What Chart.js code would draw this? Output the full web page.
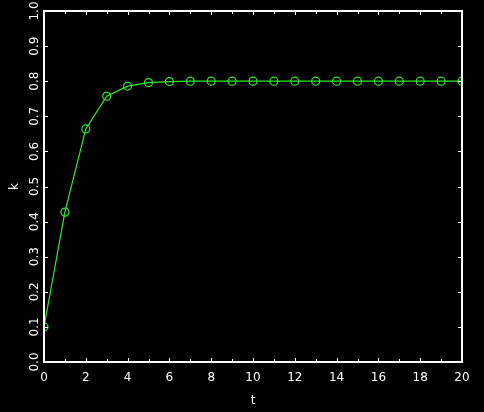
<!DOCTYPE html>
<html>
<head>
<meta charset="utf-8">
<style>
  html, body { margin: 0; padding: 0; background: #000; }
  #wrap { width: 484px; height: 412px; }
</style>
<script src="https://cdn.jsdelivr.net/npm/chart.js@4/dist/chart.umd.min.js"></script>
</head>
<body>
<div id="wrap"><canvas id="chart" width="484" height="412"></canvas></div>
<script>
'use strict';

// values
const tValues = [0, 1, 2, 3, 4, 5, 6, 7, 8, 9, 10, 11, 12, 13, 14, 15, 16, 17, 18, 19, 20];
const kValues = [0.100, 0.427, 0.664, 0.757, 0.786, 0.796, 0.799, 0.800, 0.800, 0.800, 0.800,
  0.800, 0.800, 0.800, 0.800, 0.800, 0.800, 0.800, 0.800, 0.800, 0.800];
const xLabelEvery = 2;
const yTickStep = 0.1;

const fg = '#ffffff';
const green = 'rgb(45,235,45)';
const tickFont = { family: 'DejaVu Sans', size: 12 };

// black page and white frame with inward ticks
const framePlugin = {
  id: 'frame',
  beforeDraw(chart) {
    const ctx = chart.ctx;
    ctx.save();
    ctx.fillStyle = '#000';
    ctx.fillRect(0, 0, chart.width, chart.height);
    ctx.restore();
  },
  afterDraw(chart) {
    const { ctx, chartArea: a } = chart;
    const xs = chart.scales.x;
    const ys = chart.scales.y;
    ctx.save();
    ctx.strokeStyle = fg;
    ctx.lineWidth = 2;
    ctx.strokeRect(a.left, a.top, a.right - a.left, a.bottom - a.top);
    ctx.lineWidth = 1;
    ctx.beginPath();
    xs.ticks.forEach(t => {
      const x = Math.round(xs.getPixelForValue(t.value)) + 0.5;
      const len = t.value % xLabelEvery === 0 ? 4 : 3;
      ctx.moveTo(x, a.bottom);
      ctx.lineTo(x, a.bottom - len);
      ctx.moveTo(x, a.top);
      ctx.lineTo(x, a.top + len);
    });
    ys.ticks.forEach(t => {
      const y = Math.round(ys.getPixelForValue(t.value)) + 0.5;
      ctx.moveTo(a.left, y);
      ctx.lineTo(a.left + 4, y);
      ctx.moveTo(a.right, y);
      ctx.lineTo(a.right - 4, y);
    });
    ctx.stroke();
    ctx.restore();
  }
};

function renderChart() {
  const ctx = document.getElementById('chart').getContext('2d');

  const chartData = {
    datasets: [{
      label: 'k',
      data: tValues.map((t, i) => ({ x: t, y: kValues[i] })),
      borderColor: green,
      backgroundColor: 'rgba(0,0,0,0)',
      borderWidth: 1.2,
      pointRadius: 4,
      pointBorderWidth: 1.2,
      pointBorderColor: green,
      pointBackgroundColor: 'rgba(0,0,0,0)',
      tension: 0
    }]
  };

  const chartOptions = {
    responsive: false,
    animation: false,
    layout: { padding: { top: 11, right: 22, left: 0, bottom: 0 } },
    plugins: {
      legend: { display: false },
      tooltip: { enabled: false }
    },
    scales: {
      x: {
        type: 'linear',
        min: 0,
        max: 20,
        grid: { display: false, drawTicks: false },
        border: { display: false },
        afterFit(scale) { scale.height = 50; },
        ticks: {
          stepSize: 1,
          color: fg,
          font: tickFont,
          padding: 9,
          maxRotation: 0,
          autoSkip: false,
          callback: v => (v % xLabelEvery === 0 ? String(v) : '')
        },
        title: {
          display: true,
          text: 't',
          color: fg,
          font: tickFont,
          padding: { top: 0, bottom: 4 }
        }
      },
      y: {
        min: 0,
        max: 1,
        grid: { display: false, drawTicks: false },
        border: { display: false },
        afterFit(scale) { scale.width = 44; },
        ticks: {
          stepSize: yTickStep,
          color: fg,
          font: tickFont,
          minRotation: 90,
          maxRotation: 90,
          crossAlign: 'center',
          padding: 0,
          autoSkip: false,
          callback: v => v.toFixed(1)
        },
        title: {
          display: true,
          text: 'k',
          color: fg,
          font: tickFont,
          padding: { top: 8, bottom: 0 }
        }
      }
    }
  };

  new Chart(ctx, {
    type: 'line',
    data: chartData,
    options: chartOptions,
    plugins: [framePlugin]
  });
}

renderChart();
</script>
</body>
</html>
